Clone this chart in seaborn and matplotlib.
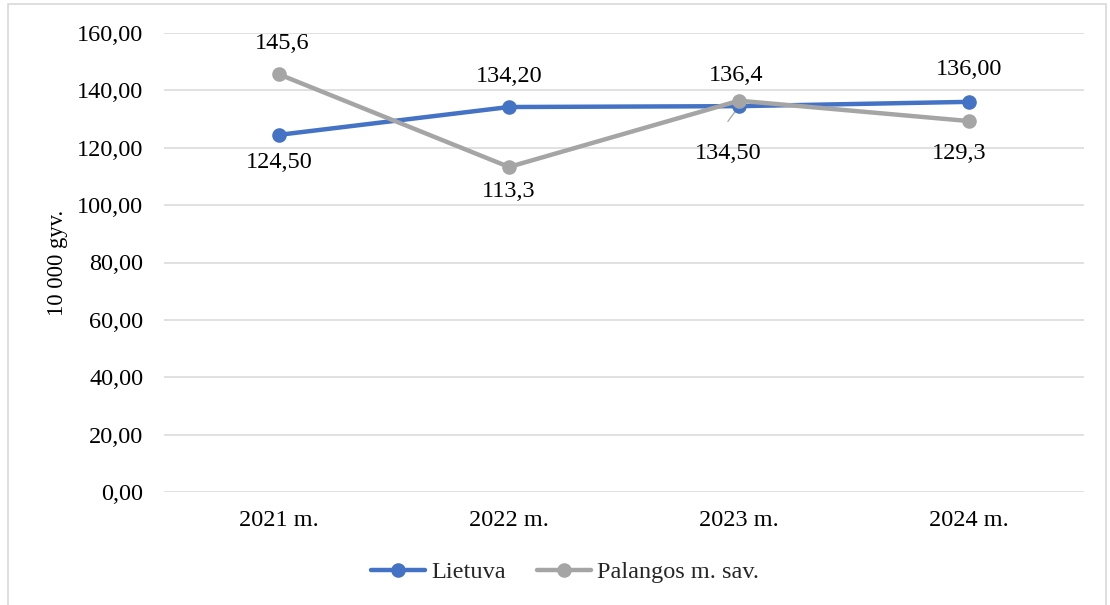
import matplotlib
matplotlib.use("Agg")
import matplotlib.pyplot as plt
import seaborn as sns
import pandas as pd
from matplotlib.lines import Line2D

years = ["2021 m.", "2022 m.", "2023 m.", "2024 m."]
lietuva = [124.50, 134.20, 134.50, 136.00]
palanga = [145.6, 113.3, 136.4, 129.3]
lietuva_labels = ["124,50", "134,20", "134,50", "136,00"]
palanga_labels = ["145,6", "113,3", "136,4", "129,3"]
series_names = ["Lietuva", "Palangos m. sav."]
y_ticks = [0, 20, 40, 60, 80, 100, 120, 140, 160]

sns.set_theme(style="white")
plt.rcParams["font.family"] = ["Liberation Serif", "DejaVu Serif"]

FS = 17.5
blue = "#4472C4"
gray = "#A5A5A5"

df = pd.DataFrame({
    "x": list(range(len(years))) * 2,
    "value": lietuva + palanga,
    "series": [series_names[0]] * len(years) + [series_names[1]] * len(years),
})

fig = plt.figure(figsize=(11.10, 6.05), dpi=100)
ax = fig.add_axes([164 / 1110, 1 - 492 / 605, (1084 - 164) / 1110, (492 - 33) / 605])

sns.lineplot(data=df, x="x", y="value", hue="series", palette=[blue, gray],
             marker="o", markersize=10.5, markeredgewidth=0, linewidth=3.2,
             sort=False, legend=False, ax=ax, zorder=3)

ax.set_xlim(-0.5, len(years) - 0.5)
ax.set_ylim(0, 160)
ax.set_yticks(y_ticks)
ax.set_yticklabels([f"{v:.2f}".replace(".", ",") for v in y_ticks], fontsize=FS, color="#000000")
ax.set_xticks(range(len(years)))
ax.set_xticklabels(years, fontsize=FS, color="#000000")
ax.tick_params(axis="both", length=0)
ax.tick_params(axis="x", pad=13)
ax.tick_params(axis="y", pad=15)
ax.yaxis.grid(True, color="#D9D9D9", linewidth=1.1)
ax.xaxis.grid(False)
for s in ax.spines.values():
    s.set_visible(False)
ax.set_xlabel("")
ax.set_ylabel("10 000 gyv.", fontsize=16.3, color="#000000", labelpad=6)

# data labels (offsets in points)
l_off = [(0, -20), (0, 22), (-8, -34), (0, 23)]
p_off = [(2, 22), (0, -18), (-2, 18), (-7, -23)]
for i in range(len(years)):
    ax.annotate(lietuva_labels[i], (i, lietuva[i]), xytext=l_off[i], textcoords="offset points",
                ha="center", va="center", fontsize=FS, color="#000000", zorder=5)
    ax.annotate(palanga_labels[i], (i, palanga[i]), xytext=p_off[i], textcoords="offset points",
                ha="center", va="center", fontsize=FS, color="#000000", zorder=5)
# leader line for 134,50
ax.annotate("", xy=(2, lietuva[2]), xytext=(-8, -11), textcoords="offset points",
            arrowprops=dict(arrowstyle="-", color="#A5A5A5", lw=0.9, shrinkA=0, shrinkB=3), zorder=2)

handles = [Line2D([], [], color=blue, lw=3.2, marker="o", markersize=10.5, markeredgewidth=0),
           Line2D([], [], color=gray, lw=3.2, marker="o", markersize=10.5, markeredgewidth=0)]
fig.legend(handles, series_names, loc="center", bbox_to_anchor=(565 / 1110, 1 - 572 / 605),
           ncol=2, frameon=False, fontsize=FS, handlelength=2.2, handletextpad=0.25,
           columnspacing=1.3)

# outer chart border (light gray)
border = plt.Rectangle((8 / 1110, -0.05), (1106 - 8) / 1110, 1.05 - 4 / 605,
                       transform=fig.transFigure, fill=False, edgecolor="#D9D9D9", lw=1.2)
fig.patches.append(border)

fig.savefig("out.png", dpi=100)
